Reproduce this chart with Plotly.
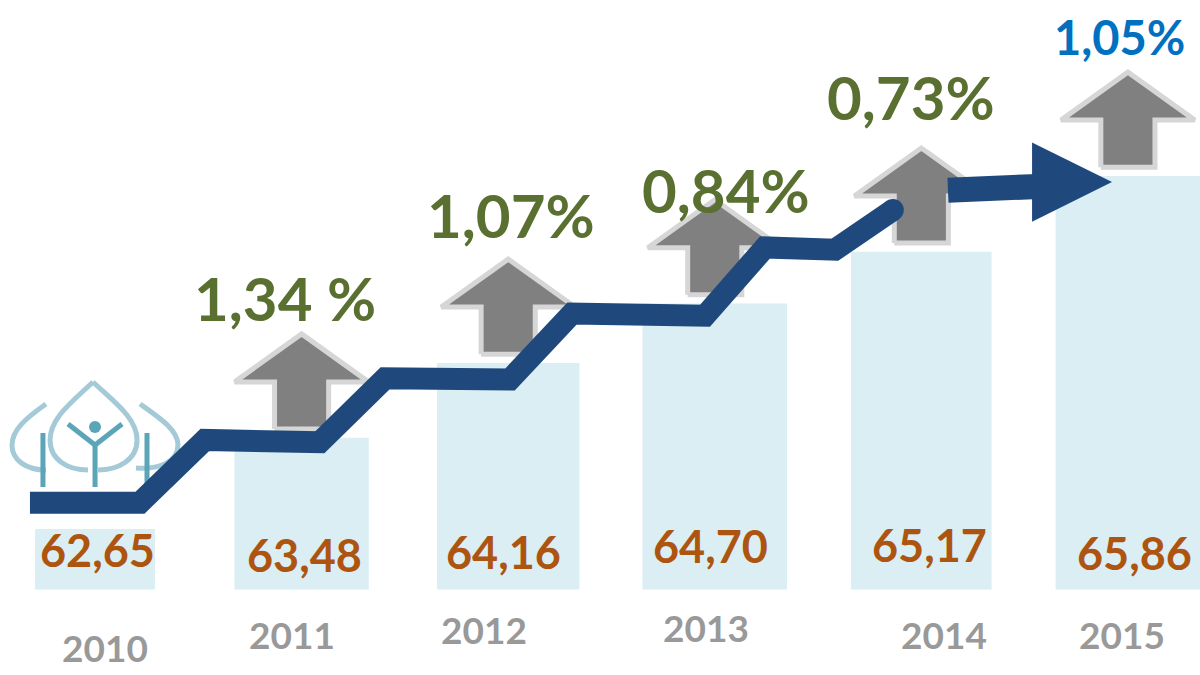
import plotly.graph_objects as go

# ── data ───────────────────────────────────────────────────────────────────
years = ["2010", "2011", "2012", "2013", "2014", "2015"]
values = [62.65, 63.48, 64.16, 64.70, 65.17, 65.86]
value_labels = ["62,65", "63,48", "64,16", "64,70", "65,17", "65,86"]
growth_labels = ["", "1,34 %", "1,07%", "0,84%", "0,73%", "1,05%"]
bar_base = 62.10

# staircase trend line (x = year index, y = value scale)
trend_x = [-0.315, 0.218, 0.532, 1.089, 1.404, 2.009, 2.309, 2.953, 3.243, 3.582, 3.862]
trend_y = [62.89, 62.89, 63.46, 63.44, 64.02, 64.01, 64.61, 64.59, 65.21, 65.19, 65.55]
# final pointer arrow: start and tip
pointer_x = [4.129, 4.923]
pointer_y = [65.73, 65.805]

# ── styles ────────────────────────────────────────────────────────────────
BAR = "#DAEEF3"
LINE = "#1F497D"
GREEN = "#5A7030"
BROWN = "#AD5510"
GREY_TXT = "#999999"
FONT = "Lato"

X_RANGE = [-0.460, 5.349]
Y_RANGE = [61.323, 67.46]
W, H = 1200, 675
bar_widths = [0.58, 0.65, 0.69, 0.70, 0.68, 0.70]

fig = go.Figure()

# bars
fig.add_trace(go.Bar(
    x=list(range(len(years))), y=[v - bar_base for v in values], base=bar_base,
    width=bar_widths, marker=dict(color=BAR, line=dict(width=0)), hoverinfo="skip",
))

# grey up arrows sitting above each bar (2011..2015)
gap, arr_h, head_h = 0.08, 0.864, 0.436
head_hw, shaft_hw = 0.324, 0.131
for i, v in enumerate(values):
    if i == 0:
        continue
    bottom = v + gap
    tip = bottom + arr_h
    hb = tip - head_h
    xs = [i - shaft_hw, i - shaft_hw, i - head_hw, i, i + head_hw, i + shaft_hw, i + shaft_hw, i - shaft_hw]
    ys = [bottom, hb, hb, tip, hb, hb, bottom, bottom]
    fig.add_trace(go.Scatter(
        x=xs, y=ys, mode="lines", fill="toself", fillcolor="#808080",
        line=dict(color="#D6D6D6", width=5), hoverinfo="skip",
    ))

# staircase line
fig.add_trace(go.Scatter(
    x=trend_x, y=trend_y, mode="lines",
    line=dict(color=LINE, width=22), hoverinfo="skip",
))
fig.add_trace(go.Scatter(
    x=[trend_x[-1]], y=[trend_y[-1]], mode="markers",
    marker=dict(color=LINE, size=22), hoverinfo="skip",
))

# pointer arrow: shaft + triangular head
head_len, head_half = 0.387, 0.36
hx = pointer_x[1] - head_len
fig.add_trace(go.Scatter(
    x=[pointer_x[0], hx + 0.03], y=[pointer_y[0], pointer_y[1] - 0.04], mode="lines",
    line=dict(color=LINE, width=25), hoverinfo="skip",
))
fig.add_trace(go.Scatter(
    x=[hx, pointer_x[1], hx, hx], y=[pointer_y[1] + head_half, pointer_y[1], pointer_y[1] - head_half, pointer_y[1] + head_half],
    mode="lines", fill="toself", fillcolor=LINE, line=dict(color=LINE, width=0), hoverinfo="skip",
))

# ── text ──────────────────────────────────────────────────────────────────
val_dx = [2, 3, -5, -4, 8, 7]
val_dy = [40, 35, 38, 44, 45, 37]
year_dx = [10, -10, -24, -9, 23, -6]
year_dy = [-58, -45, -40, -38, -45, -45]
pct_dx = [0, -17, 3, 11, -10, -8]
pct_dy = [0, 36, 44, 10, 51, 35]

for i in range(len(years)):
    fig.add_annotation(x=i, y=bar_base, text=f"<b>{value_labels[i]}</b>", showarrow=False,
                       xshift=val_dx[i], yshift=val_dy[i],
                       font=dict(family=FONT, size=45, color=BROWN))
    fig.add_annotation(x=i, y=bar_base, text=f"<b>{years[i]}</b>", showarrow=False,
                       xshift=year_dx[i], yshift=year_dy[i],
                       font=dict(family=FONT, size=37, color=GREY_TXT))
    if growth_labels[i]:
        tip = values[i] + gap + arr_h
        last = i == len(years) - 1
        fig.add_annotation(x=i, y=tip, text=f"<b>{growth_labels[i]}</b>", showarrow=False,
                           xshift=pct_dx[i], yshift=pct_dy[i],
                           font=dict(family=FONT, size=47 if last else 60,
                                     color="#0070C0" if last else GREEN))

# ── logo (decoration, paper coordinates from pixels) ──────────────────────
def P(px, py):
    return f"{px / W:.4f},{1 - py / H:.4f}"

drop = "#A3CAD6"
teal = "#5AA5B8"
logo_paths = [
    (f"M{P(93,382)} C{P(72,402)} {P(50,418)} {P(50,440)} C{P(50,460)} {P(68,470)} {P(88,470)} "
     f"M{P(98,470)} C{P(118,470)} {P(137,460)} {P(137,440)} C{P(137,418)} {P(114,402)} {P(93,382)}", drop),
    (f"M{P(46,404)} C{P(26,418)} {P(12,430)} {P(12,445)} C{P(12,460)} {P(26,470)} {P(46,470)}", drop),
    (f"M{P(140,404)} C{P(160,418)} {P(178,430)} {P(178,445)} C{P(178,460)} {P(162,470)} {P(136,468)}", drop),
    (f"M{P(43,433)} L{P(43,487)}", teal),
    (f"M{P(147,433)} L{P(147,487)}", teal),
    (f"M{P(95,443)} L{P(95,487)}", teal),
    (f"M{P(68,424)} L{P(95,445)} L{P(122,424)}", teal),
]
for path, col in logo_paths:
    fig.add_shape(type="path", path=path, xref="paper", yref="paper",
                  line=dict(color=col, width=5), layer="below")
fig.add_shape(type="circle", xref="paper", yref="paper",
              x0=89 / W, x1=101 / W, y0=1 - 433 / H, y1=1 - 421 / H,
              fillcolor=teal, line=dict(width=0), layer="below")

fig.update_layout(
    width=W, height=H, margin=dict(l=0, r=0, t=0, b=0),
    plot_bgcolor="white", paper_bgcolor="white", showlegend=False,
    xaxis=dict(range=X_RANGE, visible=False, fixedrange=True),
    yaxis=dict(range=Y_RANGE, visible=False, fixedrange=True),
)
fig.write_html("out.html", config={"displayModeBar": False},
               post_script="document.body.style.margin='0';document.body.style.overflow='hidden';")
